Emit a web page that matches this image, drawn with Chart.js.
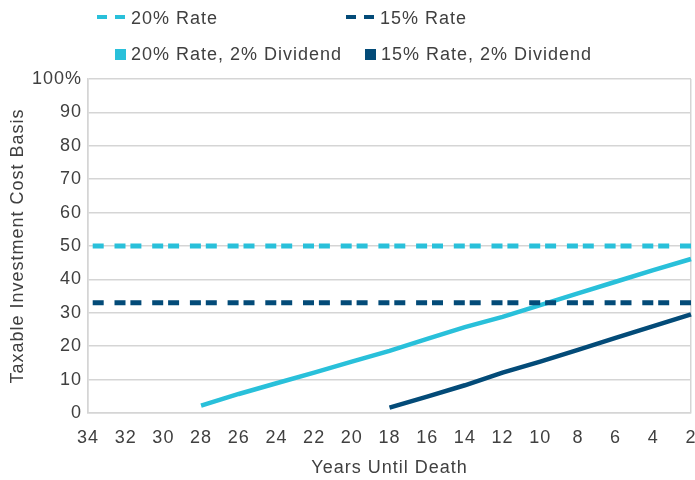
<!DOCTYPE html>
<html>
<head>
<meta charset="utf-8">
<script src="https://cdn.jsdelivr.net/npm/chart.js@4/dist/chart.umd.min.js"></script>
<style>
  html, body { margin: 0; padding: 0; background: #fff; }
  #wrap { position: relative; width: 695px; height: 480px; }
  #legend span { position: absolute; }
  .txt { font: 18px "Liberation Sans", Arial, sans-serif; color: #404040; letter-spacing: 1px; line-height: 20px; white-space: nowrap; }
</style>
</head>
<body>
<div id="wrap">
  <canvas id="myChart" width="695" height="480"></canvas>
  <div id="legend"></div>
</div>
<script>
var years = ['34', '32', '30', '28', '26', '24', '22', '20', '18', '16', '14', '12', '10', '8', '6', '4', '2']

var rate20 = [50, 50, 50, 50, 50, 50, 50, 50, 50, 50, 50, 50, 50, 50, 50, 50, 50]
var rate15 = [33, 33, 33, 33, 33, 33, 33, 33, 33, 33, 33, 33, 33, 33, 33, 33, 33]
var div20 = [null, null, null, 2.2, 5.7, 8.9, 12.1, 15.4, 18.6, 22.2, 25.7, 28.8, 32.3, 35.8, 39.3, 42.8, 46.1]
var div15 = [null, null, null, null, null, null, null, null, 1.6, 4.9, 8.3, 12.1, 15.4, 18.9, 22.5, 26.0, 29.5]

var seriesNames = ['20% Rate', '15% Rate', '20% Rate, 2% Dividend', '15% Rate, 2% Dividend']

var cyan = '#29c0da'
var navy = '#034b78'
var gridGray = '#d5d5d5'
var textGray = '#404040'
var fontFamily = '"Liberation Sans", Arial, sans-serif'

main()

function main() {
  buildLegend()
  drawChart()
}

// legend drawn as html, two rows like the original
function buildLegend() {
  var lg = document.getElementById('legend')
  var items = [
    { name: seriesNames[0], color: cyan, dashed: true, x: 97, y: 8 },
    { name: seriesNames[1], color: navy, dashed: true, x: 346, y: 8 },
    { name: seriesNames[2], color: cyan, dashed: false, x: 115, y: 44 },
    { name: seriesNames[3], color: navy, dashed: false, x: 365, y: 44 }
  ]
  var html = ''
  for (var i in items) {
    var it = items[i]
    if (it.dashed) {
      html += '<span style="left:' + it.x + 'px;top:' + (it.y + 7) + 'px;width:10px;height:4px;background:' + it.color + '"></span>'
      html += '<span style="left:' + (it.x + 18) + 'px;top:' + (it.y + 7) + 'px;width:10px;height:4px;background:' + it.color + '"></span>'
    } else {
      html += '<span style="left:' + it.x + 'px;top:' + (it.y + 5) + 'px;width:11px;height:11px;background:' + it.color + '"></span>'
    }
    var tx = it.dashed ? it.x + 34 : it.x + 16
    html += '<span class="txt" style="left:' + tx + 'px;top:' + it.y + 'px">' + it.name + '</span>'
  }
  lg.innerHTML = html
}

function drawChart() {
  var ctx = document.getElementById('myChart')
  var tickFont = { family: fontFamily, size: 18 }

  var spacing = {
    id: 'spacing',
    beforeDraw: function(chart) {
      chart.ctx.letterSpacing = '1px'
    }
  }

  new Chart(ctx, {
    type: 'line',
    data: {
      labels: years,
      datasets: [{
        label: seriesNames[0],
        data: rate20,
        borderColor: cyan,
        borderWidth: 5,
        borderDash: [11, 10.8, 11, 4.9],
        borderDashOffset: 33,
        pointRadius: 0
      }, {
        label: seriesNames[1],
        data: rate15,
        borderColor: navy,
        borderWidth: 5,
        borderDash: [11, 10.8, 11, 4.9],
        borderDashOffset: 33,
        pointRadius: 0
      }, {
        label: seriesNames[2],
        data: div20,
        borderColor: cyan,
        borderWidth: 4.5,
        pointRadius: 0
      }, {
        label: seriesNames[3],
        data: div15,
        borderColor: navy,
        borderWidth: 4.5,
        pointRadius: 0
      }]
    },
    options: {
      responsive: false,
      animation: false,
      layout: { padding: { top: 79, right: 4, left: 0, bottom: 0 } },
      plugins: {
        legend: { display: false },
        tooltip: { enabled: false }
      },
      elements: { line: { tension: 0 } },
      scales: {
        x: {
          grid: {
            drawTicks: false,
            lineWidth: 1.5,
            color: function(c) {
              return (c.index === 0 || c.index === years.length - 1) ? gridGray : 'rgba(0,0,0,0)'
            }
          },
          border: { color: gridGray, width: 1.5 },
          ticks: { padding: 14, color: textGray, font: tickFont, maxRotation: 0, autoSkip: false },
          title: {
            display: true,
            text: 'Years Until Death',
            color: textGray,
            font: tickFont,
            padding: { top: 0, bottom: 1 }
          },
          afterFit: function(s) {
            s.paddingLeft = 0
            s.paddingRight = 0
            s.height = 67
          }
        },
        y: {
          min: 0,
          max: 100,
          grid: { drawTicks: false, color: gridGray, lineWidth: 1.5 },
          border: { color: gridGray, width: 1.5 },
          ticks: {
            stepSize: 10,
            padding: 6,
            color: textGray,
            font: tickFont,
            callback: function(v) { return v === 100 ? '100%' : v }
          },
          title: {
            display: true,
            text: 'Taxable Investment Cost Basis',
            color: textGray,
            font: tickFont,
            padding: { top: 7, bottom: 0 }
          },
          afterFit: function(s) {
            s.width = 88
            s.paddingTop = 0
            s.paddingBottom = 0
          }
        }
      }
    },
    plugins: [spacing]
  })
}
</script>
</body>
</html>
